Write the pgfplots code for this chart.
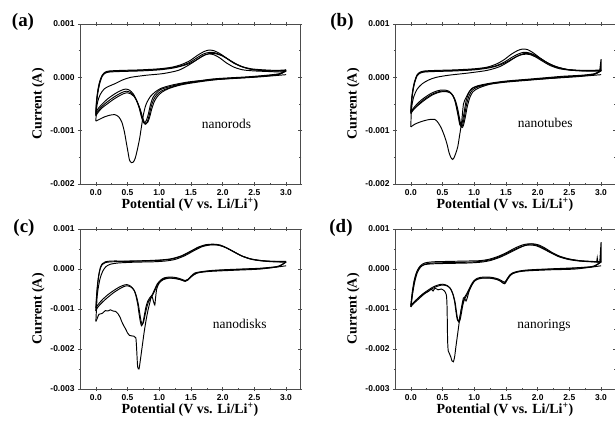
\documentclass[border=0pt]{standalone}
\usepackage{fontspec}
\setmainfont{Liberation Serif}
\newfontfamily\sansb{Liberation Sans}
\usepackage{pgfplots}
\pgfplotsset{compat=1.18}

\newcommand{\tickfont}{\sansb\bfseries\fontsize{8.5}{10}\selectfont}
\newcommand{\labfont}{\bfseries\fontsize{14}{16}\selectfont}
\newcommand{\panfont}{\bfseries\fontsize{19}{22}\selectfont}
\newcommand{\annfont}{\fontsize{13.5}{16}\selectfont}

\pgfplotsset{
  cvax/.style={
    width=220bp, height=160bp, scale only axis,
    xmin=-0.25, xmax=3.22,
    xtick={0,0.5,1,1.5,2,2.5,3},
    xticklabels={0.0,0.5,1.0,1.5,2.0,2.5,3.0},
    minor x tick num=1, minor y tick num=1,
    tick align=center,
    major tick length=4bp, minor tick length=2.5bp,
    axis line style={draw=black!70, line width=0.6bp},
    every tick/.style={draw=black!70, line width=0.6bp},
    ticklabel style={font=\tickfont},
    /pgf/number format/assume math mode=true,
    xlabel={Potential (V vs. Li/Li\textsuperscript{+})},
    ylabel={Current (A)},
    every axis y label/.style={at={(axis description cs:-0.19,0.5)}, rotate=90, anchor=center, font=\labfont},
    every axis x label/.style={at={(axis description cs:0.5,-0.131)}, anchor=center, font=\labfont},
    cycle list={{black,solid,mark=none}},
    every axis plot/.append style={line width=0.95bp, smooth, tension=0.45},
  },
  cv2/.style={cvax, ymin=-2, ymax=1, ytick={-2,-1,0,1},
    yticklabels={-0.002,-0.001,0.000,0.001}},
  cv3/.style={cvax, ymin=-3, ymax=1, ytick={-3,-2,-1,0,1},
    yticklabels={-0.003,-0.002,-0.001,0.000,0.001}},
}

\begin{document}
\begin{tikzpicture}
\useasboundingbox (0bp,0bp) rectangle (615bp,426bp);

% ---------------- (a) nanorods ----------------
\begin{axis}[cv2, at={(80bp,242bp)}, anchor=south west]
% cycle 1
\addplot coordinates {(3.0,0.05) (2.6,0.01) (2.2,-0.02) (1.8,-0.05) (1.5,-0.08) (1.3,-0.12) (1.15,-0.16) (1.02,-0.21) (0.93,-0.28) (0.86,-0.36) (0.81,-0.46) (0.78,-0.55) (0.75,-0.7) (0.72,-0.92) (0.69,-1.15) (0.65,-1.38) (0.62,-1.52) (0.59,-1.59) (0.56,-1.6) (0.53,-1.55) (0.51,-1.42) (0.48,-1.22) (0.45,-1.02) (0.41,-0.84) (0.36,-0.74) (0.3,-0.7) (0.22,-0.71) (0.14,-0.74) (0.07,-0.78) (0.0,-0.82)};
\addplot coordinates {(0.0,-0.82) (0.01,-0.6) (0.03,-0.45) (0.07,-0.32) (0.13,-0.22) (0.2,-0.17) (0.3,-0.12) (0.42,-0.05) (0.55,0.0) (0.8,0.04) (1.06,0.07) (1.3,0.13) (1.45,0.22) (1.58,0.32) (1.68,0.4) (1.78,0.44) (1.87,0.42) (1.96,0.36) (2.06,0.27) (2.18,0.19) (2.32,0.14) (2.5,0.12) (2.7,0.11) (2.9,0.1) (3.0,0.11)};
% cycles 2-4
\addplot coordinates {(3.0,0.14) (2.9,0.07) (2.7,0.04) (2.4,0.01) (2.1,-0.01) (1.85,-0.03) (1.6,-0.07) (1.35,-0.12) (1.15,-0.18) (1.02,-0.23) (0.95,-0.3) (0.9,-0.38) (0.86,-0.52) (0.83,-0.68) (0.8,-0.8) (0.77,-0.85) (0.74,-0.82) (0.71,-0.7) (0.68,-0.56) (0.64,-0.43) (0.59,-0.31) (0.53,-0.24) (0.47,-0.22) (0.41,-0.24) (0.34,-0.28) (0.26,-0.34) (0.18,-0.41) (0.1,-0.5) (0.04,-0.58) (0.0,-0.66)};
\addplot coordinates {(3.0,0.13) (2.9,0.06) (2.7,0.03) (2.4,0.0) (2.1,-0.02) (1.85,-0.04) (1.6,-0.08) (1.35,-0.13) (1.15,-0.2) (1.03,-0.26) (0.96,-0.33) (0.91,-0.42) (0.87,-0.56) (0.84,-0.72) (0.81,-0.84) (0.78,-0.88) (0.75,-0.84) (0.72,-0.72) (0.69,-0.58) (0.65,-0.45) (0.6,-0.34) (0.54,-0.28) (0.48,-0.26) (0.42,-0.28) (0.34,-0.33) (0.26,-0.39) (0.18,-0.46) (0.1,-0.54) (0.04,-0.62) (0.0,-0.7)};
\addplot coordinates {(3.0,0.12) (2.9,0.06) (2.7,0.03) (2.4,0.0) (2.1,-0.02) (1.85,-0.05) (1.6,-0.09) (1.35,-0.14) (1.15,-0.21) (1.04,-0.28) (0.97,-0.36) (0.92,-0.46) (0.88,-0.6) (0.85,-0.74) (0.82,-0.84) (0.79,-0.87) (0.76,-0.83) (0.73,-0.72) (0.7,-0.6) (0.66,-0.48) (0.61,-0.37) (0.55,-0.31) (0.49,-0.29) (0.43,-0.31) (0.35,-0.36) (0.27,-0.42) (0.19,-0.49) (0.1,-0.57) (0.04,-0.65) (0.0,-0.72)};
\addplot coordinates {(0.0,-0.66) (0.01,-0.45) (0.03,-0.25) (0.06,-0.08) (0.1,0.04) (0.15,0.1) (0.22,0.12) (0.4,0.13) (0.7,0.14) (1.0,0.16) (1.2,0.19) (1.35,0.24) (1.48,0.31) (1.6,0.41) (1.7,0.48) (1.78,0.51) (1.86,0.5) (1.95,0.45) (2.05,0.37) (2.15,0.29) (2.28,0.21) (2.45,0.16) (2.65,0.14) (2.85,0.13) (3.0,0.14)};
\addplot coordinates {(0.0,-0.7) (0.01,-0.48) (0.03,-0.28) (0.06,-0.1) (0.1,0.03) (0.15,0.09) (0.22,0.11) (0.4,0.12) (0.7,0.13) (1.0,0.15) (1.2,0.18) (1.35,0.22) (1.48,0.28) (1.6,0.37) (1.7,0.44) (1.8,0.47) (1.88,0.46) (1.97,0.42) (2.07,0.35) (2.17,0.27) (2.3,0.2) (2.45,0.15) (2.65,0.13) (2.85,0.12) (3.0,0.13)};
\addplot coordinates {(0.0,-0.72) (0.01,-0.5) (0.03,-0.3) (0.06,-0.12) (0.1,0.02) (0.15,0.08) (0.22,0.1) (0.4,0.11) (0.7,0.12) (1.0,0.14) (1.2,0.17) (1.35,0.21) (1.5,0.27) (1.62,0.35) (1.72,0.42) (1.82,0.45) (1.9,0.44) (2.0,0.4) (2.1,0.33) (2.2,0.26) (2.33,0.19) (2.5,0.14) (2.7,0.12) (2.9,0.12) (3.0,0.12)};
\node[font=\annfont] at (axis cs:2.06,-0.875) {nanorods};
\end{axis}

% ---------------- (b) nanotubes ----------------
\begin{axis}[cv2, at={(395bp,242bp)}, anchor=south west]
\addplot coordinates {(3.0,0.05) (2.6,0.01) (2.2,-0.02) (1.8,-0.05) (1.5,-0.08) (1.25,-0.12) (1.08,-0.16) (0.98,-0.2) (0.92,-0.27) (0.87,-0.38) (0.83,-0.5) (0.8,-0.85) (0.77,-1.08) (0.74,-1.3) (0.71,-1.42) (0.68,-1.51) (0.66,-1.54) (0.63,-1.5) (0.6,-1.4) (0.57,-1.25) (0.53,-1.1) (0.48,-0.95) (0.43,-0.85) (0.38,-0.79) (0.3,-0.79) (0.22,-0.81) (0.14,-0.84) (0.06,-0.88) (0.0,-0.93)};
\addplot coordinates {(0.0,-0.93) (0.005,-0.7) (0.02,-0.5) (0.05,-0.35) (0.1,-0.22) (0.18,-0.12) (0.28,-0.05) (0.4,0.0) (0.6,0.04) (0.9,0.08) (1.2,0.13) (1.4,0.2) (1.55,0.3) (1.67,0.39) (1.77,0.43) (1.87,0.43) (1.97,0.38) (2.08,0.3) (2.2,0.22) (2.35,0.16) (2.55,0.13) (2.8,0.12) (3.0,0.12)};
\addplot coordinates {(3.0,0.14) (2.9,0.07) (2.7,0.04) (2.4,0.02) (2.1,-0.01) (1.8,-0.04) (1.5,-0.07) (1.25,-0.11) (1.05,-0.16) (0.96,-0.21) (0.91,-0.3) (0.87,-0.45) (0.84,-0.66) (0.81,-0.85) (0.79,-0.91) (0.77,-0.88) (0.75,-0.75) (0.72,-0.57) (0.69,-0.42) (0.65,-0.32) (0.6,-0.26) (0.54,-0.24) (0.47,-0.24) (0.4,-0.26) (0.32,-0.3) (0.24,-0.36) (0.16,-0.43) (0.09,-0.51) (0.04,-0.58) (0.0,-0.64)};
\addplot coordinates {(3.0,0.13) (2.9,0.06) (2.7,0.03) (2.4,0.01) (2.1,-0.02) (1.8,-0.05) (1.5,-0.08) (1.25,-0.12) (1.06,-0.18) (0.97,-0.24) (0.92,-0.34) (0.88,-0.5) (0.85,-0.7) (0.82,-0.88) (0.8,-0.93) (0.78,-0.9) (0.76,-0.78) (0.73,-0.6) (0.7,-0.45) (0.66,-0.34) (0.61,-0.28) (0.55,-0.26) (0.48,-0.26) (0.41,-0.28) (0.33,-0.32) (0.25,-0.38) (0.17,-0.45) (0.1,-0.53) (0.04,-0.6) (0.0,-0.66)};
\addplot coordinates {(3.0,0.12) (2.9,0.06) (2.7,0.03) (2.4,0.0) (2.1,-0.03) (1.8,-0.06) (1.5,-0.09) (1.25,-0.13) (1.07,-0.2) (0.98,-0.27) (0.93,-0.38) (0.89,-0.55) (0.86,-0.74) (0.83,-0.9) (0.81,-0.94) (0.79,-0.9) (0.77,-0.78) (0.74,-0.6) (0.71,-0.46) (0.67,-0.35) (0.62,-0.29) (0.56,-0.27) (0.49,-0.27) (0.42,-0.29) (0.34,-0.33) (0.26,-0.39) (0.18,-0.46) (0.1,-0.54) (0.04,-0.61) (0.0,-0.68)};
\addplot coordinates {(0.0,-0.64) (0.01,-0.44) (0.03,-0.24) (0.06,-0.07) (0.1,0.05) (0.15,0.1) (0.22,0.12) (0.4,0.13) (0.7,0.14) (1.0,0.16) (1.2,0.19) (1.35,0.25) (1.47,0.33) (1.58,0.43) (1.68,0.5) (1.76,0.53) (1.84,0.52) (1.93,0.46) (2.03,0.37) (2.14,0.28) (2.27,0.2) (2.45,0.15) (2.65,0.13) (2.85,0.13) (3.0,0.14)};
\addplot coordinates {(0.0,-0.66) (0.01,-0.46) (0.03,-0.26) (0.06,-0.09) (0.1,0.04) (0.15,0.09) (0.22,0.11) (0.4,0.12) (0.7,0.13) (1.0,0.15) (1.2,0.18) (1.35,0.22) (1.48,0.29) (1.6,0.38) (1.7,0.44) (1.78,0.47) (1.86,0.46) (1.95,0.42) (2.05,0.35) (2.16,0.27) (2.29,0.2) (2.45,0.15) (2.65,0.13) (2.85,0.12) (3.0,0.13)};
\addplot coordinates {(0.0,-0.68) (0.01,-0.48) (0.03,-0.28) (0.06,-0.1) (0.1,0.03) (0.15,0.08) (0.22,0.1) (0.4,0.11) (0.7,0.12) (1.0,0.14) (1.2,0.17) (1.35,0.21) (1.5,0.28) (1.62,0.36) (1.72,0.42) (1.8,0.45) (1.88,0.44) (1.98,0.39) (2.08,0.32) (2.19,0.25) (2.32,0.19) (2.5,0.14) (2.7,0.12) (2.9,0.12) (3.0,0.12)};
\addplot[sharp plot] coordinates {(2.98,0.14) (3.0,0.34) (3.0,0.12)};
\node[font=\annfont] at (axis cs:2.12,-0.86) {nanotubes};
\end{axis}

% ---------------- (c) nanodisks ----------------
\begin{axis}[cv3, at={(80bp,37bp)}, anchor=south west]
\addplot coordinates {(3.0,0.08) (2.6,0.0) (2.2,-0.03) (1.8,-0.06) (1.6,-0.1) (1.5,-0.2) (1.45,-0.27) (1.4,-0.3) (1.34,-0.27) (1.25,-0.24) (1.15,-0.23) (1.06,-0.27) (1.0,-0.35) (0.96,-0.5) (0.94,-0.75) (0.93,-0.9) (0.91,-0.82) (0.89,-0.7) (0.87,-0.72) (0.85,-0.85) (0.82,-1.05) (0.79,-1.3) (0.76,-1.6) (0.73,-1.95) (0.7,-2.3) (0.68,-2.5) (0.66,-2.45) (0.65,-2.2) (0.64,-1.9) (0.63,-1.72) (0.6,-1.68) (0.56,-1.67) (0.53,-1.66) (0.5,-1.6) (0.47,-1.5) (0.44,-1.42) (0.41,-1.32) (0.38,-1.2) (0.35,-1.12) (0.31,-1.06) (0.27,-1.05) (0.23,-1.02) (0.19,-1.05) (0.15,-1.04) (0.11,-1.1) (0.08,-1.12) (0.05,-1.13) (0.03,-1.2) (0.01,-1.28) (0.0,-1.31)};
\addplot coordinates {(0.0,-1.31) (0.01,-1.0) (0.02,-0.7) (0.04,-0.45) (0.07,-0.22) (0.11,-0.05) (0.16,0.06) (0.23,0.12) (0.35,0.15) (0.6,0.17) (0.9,0.18) (1.1,0.2) (1.25,0.24) (1.4,0.33) (1.55,0.46) (1.68,0.56) (1.8,0.6) (1.92,0.6) (2.03,0.55) (2.15,0.45) (2.28,0.34) (2.42,0.26) (2.6,0.21) (2.8,0.19) (3.0,0.19)};
\addplot coordinates {(3.0,0.18) (2.92,0.1) (2.85,0.06) (2.6,0.02) (2.3,0.0) (2.0,-0.02) (1.8,-0.04) (1.65,-0.07) (1.56,-0.1) (1.5,-0.18) (1.45,-0.26) (1.41,-0.29) (1.36,-0.26) (1.28,-0.22) (1.18,-0.2) (1.08,-0.22) (1.02,-0.28) (0.97,-0.37) (0.93,-0.5) (0.89,-0.64) (0.85,-0.72) (0.82,-0.8) (0.79,-0.95) (0.76,-1.2) (0.74,-1.36) (0.72,-1.42) (0.7,-1.3) (0.68,-1.1) (0.66,-0.88) (0.63,-0.66) (0.6,-0.52) (0.55,-0.43) (0.49,-0.39) (0.43,-0.41) (0.36,-0.46) (0.28,-0.54) (0.2,-0.63) (0.12,-0.74) (0.06,-0.84) (0.02,-0.92) (0.0,-0.98)};
\addplot coordinates {(3.0,0.17) (2.92,0.09) (2.85,0.05) (2.6,0.01) (2.3,-0.01) (2.0,-0.03) (1.8,-0.05) (1.65,-0.08) (1.56,-0.12) (1.5,-0.2) (1.45,-0.28) (1.41,-0.31) (1.36,-0.28) (1.28,-0.24) (1.18,-0.22) (1.08,-0.24) (1.02,-0.3) (0.97,-0.4) (0.93,-0.54) (0.89,-0.67) (0.86,-0.74) (0.83,-0.82) (0.8,-0.98) (0.77,-1.2) (0.75,-1.34) (0.73,-1.38) (0.71,-1.28) (0.69,-1.08) (0.67,-0.88) (0.64,-0.68) (0.61,-0.55) (0.56,-0.46) (0.5,-0.42) (0.44,-0.44) (0.37,-0.5) (0.29,-0.58) (0.21,-0.68) (0.13,-0.79) (0.06,-0.9) (0.02,-0.98) (0.0,-1.05)};
\addplot coordinates {(0.0,-0.98) (0.01,-0.7) (0.025,-0.4) (0.045,-0.15) (0.07,0.03) (0.1,0.13) (0.15,0.18) (0.25,0.2) (0.5,0.2) (0.8,0.21) (1.05,0.23) (1.2,0.26) (1.35,0.33) (1.5,0.45) (1.62,0.55) (1.74,0.61) (1.86,0.62) (1.96,0.6) (2.06,0.53) (2.18,0.43) (2.3,0.33) (2.45,0.25) (2.62,0.21) (2.8,0.19) (3.0,0.18)};
\addplot coordinates {(0.0,-1.05) (0.01,-0.75) (0.025,-0.45) (0.045,-0.18) (0.07,0.01) (0.1,0.11) (0.15,0.16) (0.25,0.18) (0.5,0.19) (0.8,0.2) (1.05,0.22) (1.2,0.25) (1.35,0.32) (1.5,0.44) (1.62,0.54) (1.75,0.6) (1.87,0.61) (1.97,0.58) (2.07,0.52) (2.19,0.42) (2.31,0.32) (2.46,0.24) (2.63,0.2) (2.8,0.18) (3.0,0.17)};
\node[font=\annfont] at (axis cs:2.27,-1.375) {nanodisks};
\end{axis}

% ---------------- (d) nanorings ----------------
\begin{axis}[cv3, at={(395bp,37bp)}, anchor=south west]
\addplot coordinates {(3.0,0.08) (2.6,0.0) (2.2,-0.02) (1.8,-0.05) (1.65,-0.09) (1.57,-0.15) (1.52,-0.25) (1.49,-0.33) (1.46,-0.36) (1.42,-0.31) (1.35,-0.26) (1.25,-0.23) (1.12,-0.23) (1.02,-0.28) (0.96,-0.4) (0.92,-0.55) (0.89,-0.72) (0.87,-0.8) (0.85,-0.74) (0.83,-0.72) (0.8,-0.95) (0.77,-1.25) (0.74,-1.6) (0.71,-1.95) (0.69,-2.2) (0.67,-2.32) (0.65,-2.3) (0.63,-2.2) (0.61,-2.12) (0.59,-2.05) (0.58,-1.8) (0.575,-1.3) (0.57,-0.9) (0.56,-0.65) (0.53,-0.55) (0.48,-0.5) (0.43,-0.52) (0.38,-0.48) (0.35,-0.55) (0.32,-0.5) (0.28,-0.56) (0.22,-0.6) (0.15,-0.68) (0.08,-0.78) (0.03,-0.86) (0.0,-0.9)};
\addplot coordinates {(0.0,-0.9) (0.02,-0.6) (0.05,-0.3) (0.09,-0.08) (0.14,0.05) (0.22,0.11) (0.35,0.13) (0.6,0.14) (0.9,0.15) (1.1,0.17) (1.25,0.21) (1.4,0.29) (1.55,0.4) (1.7,0.52) (1.82,0.6) (1.92,0.63) (2.02,0.6) (2.12,0.52) (2.22,0.42) (2.35,0.32) (2.5,0.25) (2.7,0.2) (2.9,0.18) (3.0,0.17)};
\addplot coordinates {(3.0,0.18) (2.92,0.1) (2.85,0.06) (2.6,0.03) (2.3,0.01) (2.0,-0.01) (1.8,-0.03) (1.68,-0.06) (1.6,-0.1) (1.55,-0.17) (1.51,-0.27) (1.48,-0.33) (1.44,-0.3) (1.38,-0.25) (1.28,-0.21) (1.15,-0.2) (1.05,-0.23) (0.99,-0.3) (0.95,-0.4) (0.91,-0.53) (0.88,-0.62) (0.85,-0.7) (0.82,-0.85) (0.79,-1.05) (0.77,-1.22) (0.75,-1.3) (0.73,-1.25) (0.71,-1.05) (0.69,-0.82) (0.66,-0.62) (0.62,-0.48) (0.57,-0.41) (0.5,-0.38) (0.43,-0.4) (0.35,-0.45) (0.27,-0.53) (0.19,-0.62) (0.12,-0.72) (0.06,-0.82) (0.02,-0.89) (0.0,-0.93)};
\addplot coordinates {(3.0,0.17) (2.92,0.09) (2.85,0.05) (2.6,0.02) (2.3,0.0) (2.0,-0.02) (1.8,-0.04) (1.68,-0.07) (1.6,-0.12) (1.55,-0.2) (1.51,-0.3) (1.48,-0.37) (1.44,-0.33) (1.38,-0.27) (1.28,-0.23) (1.15,-0.22) (1.05,-0.25) (0.99,-0.33) (0.95,-0.44) (0.91,-0.57) (0.88,-0.66) (0.85,-0.74) (0.82,-0.9) (0.8,-1.08) (0.78,-1.25) (0.76,-1.33) (0.74,-1.27) (0.72,-1.08) (0.7,-0.85) (0.67,-0.65) (0.63,-0.5) (0.58,-0.43) (0.51,-0.4) (0.44,-0.42) (0.36,-0.47) (0.28,-0.55) (0.2,-0.64) (0.13,-0.74) (0.06,-0.84) (0.02,-0.9) (0.0,-0.95)};
\addplot coordinates {(0.0,-0.93) (0.03,-0.55) (0.06,-0.28) (0.1,-0.05) (0.15,0.08) (0.22,0.15) (0.35,0.18) (0.6,0.19) (0.9,0.2) (1.1,0.21) (1.25,0.25) (1.4,0.33) (1.52,0.42) (1.65,0.53) (1.78,0.61) (1.88,0.63) (1.98,0.6) (2.08,0.53) (2.2,0.42) (2.33,0.32) (2.48,0.25) (2.65,0.21) (2.85,0.19) (3.0,0.18)};
\addplot coordinates {(0.0,-0.95) (0.03,-0.6) (0.06,-0.33) (0.1,-0.1) (0.15,0.04) (0.22,0.12) (0.35,0.15) (0.6,0.16) (0.9,0.17) (1.1,0.19) (1.25,0.23) (1.4,0.31) (1.52,0.4) (1.65,0.5) (1.78,0.58) (1.88,0.6) (1.98,0.58) (2.08,0.51) (2.2,0.41) (2.33,0.31) (2.48,0.24) (2.65,0.2) (2.85,0.18) (3.0,0.17)};
\addplot[sharp plot] coordinates {(2.93,0.17) (2.94,0.28) (2.95,0.17)};
\addplot[sharp plot] coordinates {(2.98,0.18) (3.0,0.67) (3.0,0.17)};
\node[font=\annfont] at (axis cs:2.1,-1.4) {nanorings};
\end{axis}

\node[font=\panfont] at (23bp,404bp) {(a)};
\node[font=\panfont] at (342bp,404bp) {(b)};
\node[font=\panfont] at (24bp,198bp) {(c)};
\node[font=\panfont] at (341bp,198bp) {(d)};
\end{tikzpicture}
\end{document}
